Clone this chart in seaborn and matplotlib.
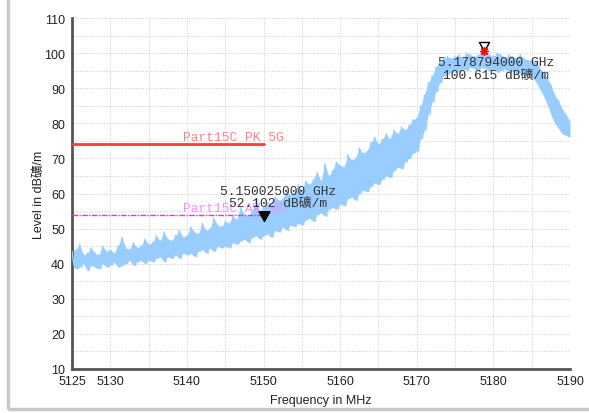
import numpy as np
import pandas as pd
import matplotlib
matplotlib.use("Agg")
import matplotlib.pyplot as plt
from matplotlib.path import Path
from matplotlib.patches import Rectangle
from matplotlib.ticker import MultipleLocator
import seaborn as sns

# ==============================
# Data
# ==============================
freq_mhz = [5125 + 0.5 * i for i in range(131)]

trace_upper = [
    43.5, 44, 45.5, 42.5, 43, 44.5, 43, 42.5, 45, 43.5,
    44, 43, 45, 47.5, 44.5, 44, 46, 44.5, 45, 47,
    45.5, 46, 48, 46.5, 49, 47, 46.5, 48, 49.5, 47.5,
    48, 50.5, 49, 48.5, 51.5, 49.5, 50, 53, 51, 50.5,
    52, 51.5, 53.5, 52.5, 56, 54, 53.5, 55, 58.5, 55,
    56, 57.5, 56.5, 59, 58, 58.5, 61, 59.5, 60, 62.5,
    61, 63.5, 62.5, 64, 66, 63.5, 68.5, 65, 66.5, 69,
    68, 67.5, 71, 69.5, 70, 73, 71.5, 72, 74.5, 76,
    74, 75.5, 77, 75.5, 78, 77, 79, 78, 79.5, 81,
    81.5, 85, 88, 91.5, 93.5, 96, 97.5, 98.5, 99, 98.5,
    99, 99.5, 98.5, 100, 99.5, 99, 99.5, 100.2, 100.6, 99.5,
    99, 100, 99.5, 98.5, 99.5, 99, 98.5, 99.5, 98.5, 98,
    98, 97.5, 96, 94.5, 93, 91, 88, 86.5, 84, 82.5, 80.5,
]

trace_lower = [
    39.5, 38.5, 39, 40, 38, 39.5, 39, 38.5, 40, 39,
    39.5, 40.5, 39, 39.5, 40, 41, 39.5, 40.5, 41, 40,
    41, 40.5, 41.5, 42, 40.5, 42, 41.5, 42.5, 41.5, 43,
    42.5, 43, 42, 43.5, 44, 43, 44.5, 43.5, 45, 44.5,
    45, 44.5, 46, 45.5, 46.5, 47, 46, 47.5, 48, 47,
    48, 48.5, 47.5, 49.5, 49, 50.5, 49.5, 51, 50.5, 51.5,
    51, 52.5, 53, 52, 54, 54.5, 53.5, 55.5, 56, 55.5,
    57, 56.5, 58.5, 59, 58, 60, 61, 60.5, 62, 63,
    62.5, 64, 65, 64.5, 66.5, 67.5, 67, 69, 70, 71.5,
    72, 75.5, 78, 82.5, 86, 89, 91.5, 93.5, 94, 94.5,
    95, 94.5, 95.5, 95, 96, 95.5, 95, 96, 95.5, 95,
    95.5, 94.5, 95, 95.5, 94.5, 95, 94, 94.5, 93.5, 94,
    93, 92, 90, 88, 85.5, 82.5, 80, 78.5, 77, 76.5, 76,
]

limit_names = ["Part15C PK 5G", "Part15C AV 5G"]
limit_levels = [74, 54]
limit_span = [5125, 5150]

marker_freq = [5150.025, 5178.794]
marker_level = [52.102, 100.615]
marker_text = ["5.150025000 GHz\n52.102 dB礦/m", "5.178794000 GHz\n100.615 dB礦/m"]

x_ticks = [5125, 5130, 5135, 5140, 5145, 5150, 5155, 5160, 5165, 5170, 5175, 5180, 5185, 5190]
x_labels = ["5125", "5130", "", "5140", "", "5150", "", "5160", "", "5170", "", "5180", "", "5190"]

# ==============================
# Style
# ==============================
sns.set_style("white")
plt.rcParams["font.family"] = ["Liberation Sans", "Noto Sans CJK SC"]
mono = ["Liberation Mono", "Noto Sans CJK SC"]

fig = plt.figure(figsize=(5.89, 4.14), dpi=100)
ax = fig.add_axes([72 / 589, 44 / 414, 498 / 589, 351 / 414])

# grey frame round the picture (right side runs off the edge)
fig.patches.append(Rectangle((8 / 589, 4 / 414), 1.05, 0.993, transform=fig.transFigure,
                             fill=False, edgecolor="#c8c8c8", linewidth=2.5))

# zigzag between lower and upper envelope to look like the noisy trace
zig_x, zig_y = [], []
for f, lo, hi in zip(freq_mhz, trace_lower, trace_upper):
    zig_x += [f, f + 0.25]
    zig_y += [hi, lo]
trace = pd.DataFrame({"freq": zig_x[:-1], "level": zig_y[:-1]})

ax.fill_between(freq_mhz, trace_lower, trace_upper, color="#99ccff", linewidth=0, zorder=2)
sns.lineplot(data=trace, x="freq", y="level", sort=False, estimator=None,
             color="#99ccff", linewidth=1.0, ax=ax, zorder=3)

# limit lines
limit_styles = [("#ff3a3a", "-", 2.0, "#ff8080"), ("#ff22ff", (0, (4, 1, 1, 1)), 1.0, "#ff88ff")]
for name, lvl, (lc, ls, lw, tc) in zip(limit_names, limit_levels, limit_styles):
    lim = pd.DataFrame({"freq": limit_span, "level": [lvl, lvl]})
    sns.lineplot(data=lim, x="freq", y="level", color=lc, linestyle=ls, linewidth=lw, ax=ax, zorder=4)
    ax.annotate(name, (limit_span[1], lvl), xytext=(-30, 1), textcoords="offset pixels",
                ha="center", va="bottom", color=tc, fontsize=9.3, family=mono, zorder=5)

# markers: triangle tip sits on the measured point
tri = Path([(-0.5, 0.9), (0.5, 0.9), (0.0, 0.0), (-0.5, 0.9)],
           [Path.MOVETO, Path.LINETO, Path.LINETO, Path.CLOSEPOLY])
ax.plot(marker_freq[0], marker_level[0], marker=tri, markersize=14, color="black",
        linestyle="none", zorder=6)
ax.plot(marker_freq[1], marker_level[1], marker=tri, markersize=13, markerfacecolor="none",
        markeredgecolor="black", markeredgewidth=1.0, linestyle="none", zorder=6)
ax.plot(marker_freq[1], marker_level[1], marker=(8, 2, 0), markersize=6, color="red",
        markeredgewidth=1.0, linestyle="none", zorder=7)

text_offsets = [(14, 24), (12, -18)]
for f, lvl, txt, off in zip(marker_freq, marker_level, marker_text, text_offsets):
    ax.annotate(txt, (f, lvl), xytext=off, textcoords="offset pixels", ha="center",
                va="center", fontsize=9.3, family=mono, color="#333333",
                linespacing=1.1, zorder=8)

# ==============================
# Axes
# ==============================
ax.set_xlim(5125, 5190)
ax.set_ylim(10, 110)
ax.set_xticks(x_ticks)
ax.set_xticklabels(x_labels)
ax.yaxis.set_major_locator(MultipleLocator(10))
ax.yaxis.set_minor_locator(MultipleLocator(5))

ax.grid(True, which="both", color="#cccccc", linestyle=(0, (1, 1.5)), linewidth=0.7)
ax.set_axisbelow(True)
for s in ["top", "right"]:
    ax.spines[s].set_visible(False)
for s in ["left", "bottom"]:
    ax.spines[s].set_color("#555555")
    ax.spines[s].set_linewidth(2)

ax.tick_params(axis="both", which="both", direction="inout", color="#333333", width=1.2,
               labelsize=9, labelcolor="#222222")
ax.tick_params(axis="y", which="both", length=8, pad=1)
ax.tick_params(axis="x", which="major", length=7, pad=1)

ax.set_xlabel("Frequency in MHz", fontsize=9, color="#222222", labelpad=5)
ax.set_ylabel("Level in dB礦/m", fontsize=9, color="#222222", labelpad=-1)

fig.savefig("out.png", dpi=100)
